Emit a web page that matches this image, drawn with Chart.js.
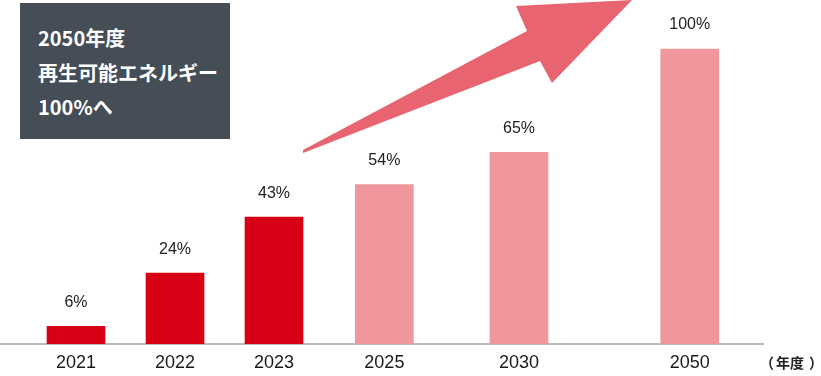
<!DOCTYPE html>
<html><head><meta charset="utf-8">
<script src="https://cdn.jsdelivr.net/npm/chart.js@4"></script>
<style>
html,body{margin:0;padding:0;background:#fff;}
#wrap{position:relative;width:821px;height:376px;overflow:hidden;}
#c{position:absolute;left:0;top:0;}
#arrow{position:absolute;left:0;top:0;}
#box{position:absolute;left:20px;top:3px;width:210px;height:136px;background:#454d56;color:#fff;font-family:"Noto Sans CJK JP","Noto Sans",sans-serif;font-weight:700;font-size:20px;}
#box div{position:absolute;left:18px;line-height:24px;white-space:nowrap;}
#unit{position:absolute;left:760px;top:352px;font-weight:700;font-size:14px;font-family:"Noto Sans CJK JP",sans-serif;color:#222;white-space:nowrap;}
#unit .r{margin-left:5px;}
#unit .m{margin-left:2px;}
</style></head>
<body>
<div id="wrap">
<canvas id="c" width="821" height="376"></canvas>
<svg id="arrow" width="821" height="376"><polygon points="303,150 527,31 516,6 632,0 552,83 540,61 303,153" fill="#e86470"/></svg>
<div id="box"><div style="top:23px">2050年度</div><div style="top:58px">再生可能エネルギー</div><div style="top:92px">100%へ</div></div>
<div id="unit">（<span class="m">年度</span><span class="r">）</span></div>
</div>
<script>
// Data
const years = ['2021', '2022', '2023', '2025', '2030', '2050'];
const sharePercent = [6, 24, 43, 54, 65, 100];
const isActual = [true, true, true, false, false, false];
// Layout: axis slot of each year (the reference spaces the years unevenly)
const xSlots = [0, 1, 2, 3.115, 4.475, 6.2];

const RED = '#d70015';
const PINK = '#f0979d';

const points = years.map((y, i) => ({ x: xSlots[i], y: sharePercent[i] }));

const valueLabels = {
  id: 'valueLabels',
  afterDatasetsDraw(chart) {
    const ctx = chart.ctx;
    const meta = chart.getDatasetMeta(0);
    ctx.save();
    ctx.font = '16px "Liberation Sans", Arial, sans-serif';
    ctx.fillStyle = '#222';
    ctx.textAlign = 'center';
    ctx.textBaseline = 'middle';
    meta.data.forEach((bar, i) => {
      ctx.fillText(sharePercent[i] + '%', bar.x, bar.y - 24);
    });
    ctx.restore();
  }
};

new Chart(document.getElementById('c'), {
  type: 'bar',
  data: {
    datasets: [{
      data: points,
      backgroundColor: isActual.map(a => a ? RED : PINK),
      borderWidth: 0,
      barThickness: 58
    }]
  },
  options: {
    responsive: false,
    animation: false,
    layout: { padding: { left: 0, right: 58, top: 0, bottom: 0 } },
    plugins: { legend: { display: false }, tooltip: { enabled: false } },
    scales: {
      x: {
        type: 'linear',
        offset: false,
        min: -0.768,
        max: 6.94,
        grid: { display: false, drawTicks: false },
        border: { display: true, color: '#bbbbbb', width: 2 },
        afterBuildTicks(scale) { scale.ticks = xSlots.map(v => ({ value: v })); },
        afterFit(scale) { scale.height = 32; },
        ticks: {
          padding: 8,
          autoSkip: false,
          maxRotation: 0,
          color: '#1a1a1a',
          font: { family: '"Liberation Sans", Arial, sans-serif', size: 18 },
          callback(value) {
            const i = xSlots.indexOf(value);
            return i >= 0 ? years[i] : '';
          }
        }
      },
      y: {
        display: false,
        min: 0,
        max: 116.6
      }
    }
  },
  plugins: [valueLabels]
});
</script>
</body></html>
